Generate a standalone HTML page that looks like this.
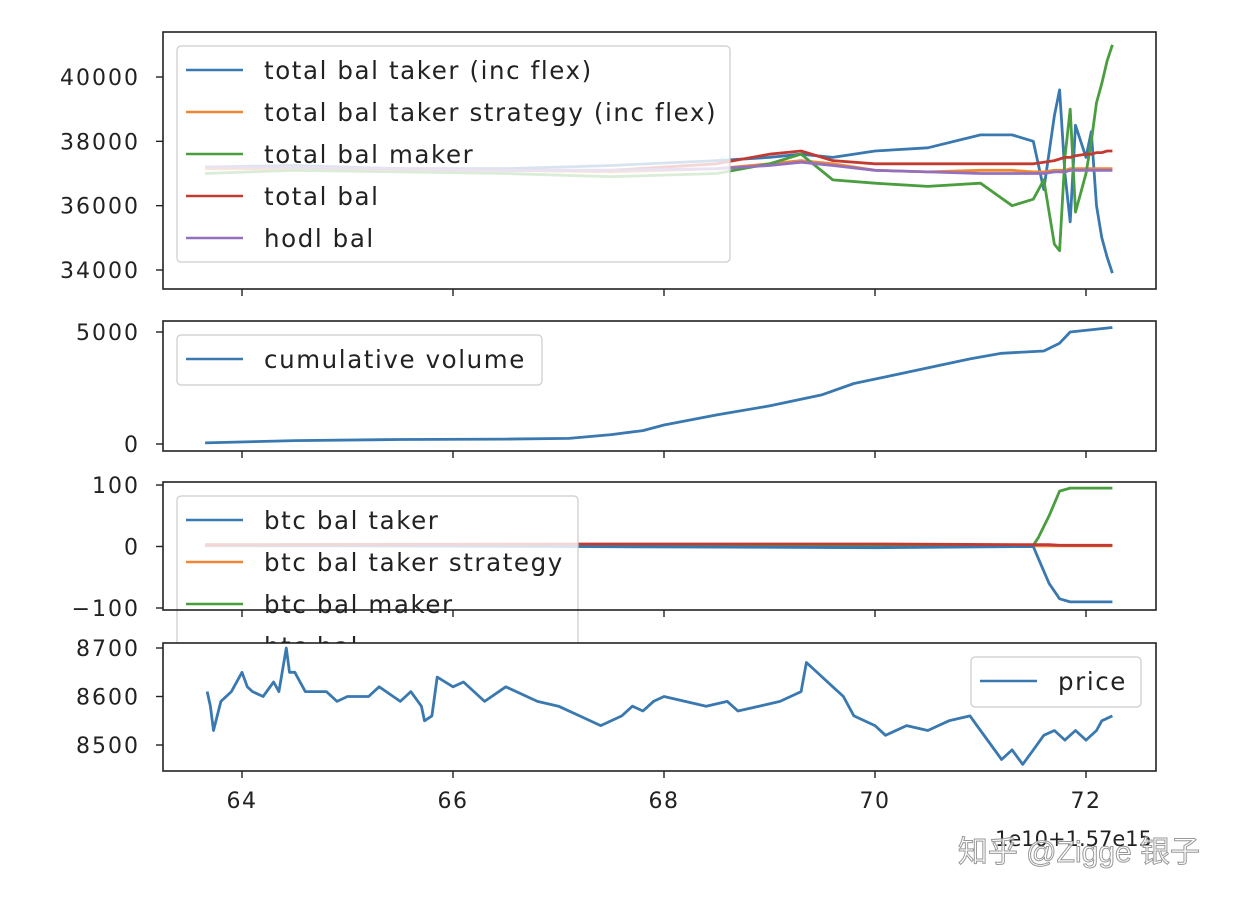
<!DOCTYPE html>
<html><head><meta charset="utf-8"><style>
body{margin:0;background:#fff;}
svg{display:block;font-family:"DejaVu Sans","Liberation Sans",sans-serif;}
</style></head><body>
<svg id="c" width="1234" height="906"></svg>
<script>
const xTickLabels=[64,66,68,70,72];
const balX=[63.65,64.5,65.5,66.5,67.5,68.5,69.0,69.3,69.6,70.0,70.5,71.0,71.3,71.5,71.6,71.7,71.75,71.8,71.85,71.9,72.0,72.05,72.1,72.15,72.2,72.25];
const takerBal=[37200,37250,37150,37150,37250,37400,37500,37600,37500,37700,37800,38200,38200,38000,36500,38800,39600,37000,35500,38500,37500,38300,36000,35000,34400,33900];
const makerBal=[37000,37100,37050,37000,36900,37000,37300,37600,36800,36700,36600,36700,36000,36200,36800,34800,34600,37500,39000,35800,37000,38000,39200,39800,40500,41000];
const totalBal=[37200,37200,37150,37100,37100,37300,37600,37700,37400,37300,37300,37300,37300,37300,37350,37400,37450,37500,37500,37550,37600,37600,37650,37650,37700,37700];
const takerStratBal=[37150,37150,37100,37100,37050,37150,37300,37400,37300,37100,37050,37100,37100,37050,37050,37100,37100,37100,37150,37150,37150,37150,37150,37150,37150,37150];
const hodlBal=[37200,37200,37150,37100,37100,37150,37250,37350,37250,37100,37050,37000,37000,37000,37000,37050,37050,37050,37100,37100,37100,37100,37100,37100,37100,37100];
const volX=[63.65,64.5,65.5,66.5,67.1,67.5,67.8,68.0,68.5,69.0,69.5,69.8,70.2,70.6,70.9,71.2,71.6,71.75,71.85,72.25];
const cumVol=[50,150,200,220,250,420,600,850,1300,1700,2200,2700,3100,3500,3800,4050,4150,4500,5000,5200];
const btcX=[63.65,67.0,70.0,71.5,71.55,71.65,71.75,71.85,72.0,72.25];
const btcTaker=[2,0,-2,0,-20,-60,-85,-90,-90,-90];
const btcMaker=[3,3,2,2,15,50,90,95,95,95];
const btcTotal=[3,4,4,3,3,3,2,2,2,2];
const btcStrat=[1,1,1,1,1,1,1,1,1,1];
const priceX=[63.67,63.7,63.73,63.8,63.9,64.0,64.05,64.1,64.2,64.3,64.35,64.42,64.45,64.5,64.6,64.8,64.9,65.0,65.2,65.3,65.5,65.6,65.7,65.73,65.8,65.85,66.0,66.1,66.3,66.5,66.8,67.0,67.2,67.4,67.6,67.7,67.8,67.9,68.0,68.2,68.4,68.6,68.7,68.9,69.1,69.3,69.35,69.5,69.6,69.7,69.8,70.0,70.1,70.3,70.5,70.7,70.9,71.0,71.2,71.3,71.4,71.5,71.6,71.7,71.8,71.9,72.0,72.1,72.15,72.25];
const price=[8610,8580,8530,8590,8610,8650,8620,8610,8600,8630,8610,8700,8650,8650,8610,8610,8590,8600,8600,8620,8590,8610,8580,8550,8560,8640,8620,8630,8590,8620,8590,8580,8560,8540,8560,8580,8570,8590,8600,8590,8580,8590,8570,8580,8590,8610,8670,8640,8620,8600,8560,8540,8520,8540,8530,8550,8560,8530,8470,8490,8460,8490,8520,8530,8510,8530,8510,8530,8550,8560];

const NS="http://www.w3.org/2000/svg";
const svg=document.getElementById('c');
function el(t,a,p){const e=document.createElementNS(NS,t);for(const k in a)e.setAttribute(k,a[k]);(p||svg).appendChild(e);return e;}
const X=v=>242+(v-64)*105.5;
function lin(v0,p0,v1,p1){return v=>p0+(v-v0)*(p1-p0)/(v1-v0);}
const panels=[
 {top:32,bot:289,y:lin(40000,77,34000,270),ticks:[40000,38000,36000,34000],name:'balance-panel'},
 {top:321,bot:451,y:lin(5000,332,0,444),ticks:[5000,0],name:'volume-panel'},
 {top:482,bot:610,y:lin(100,485,-100,608),ticks:[100,0,-100],name:'btc-panel'},
 {top:643,bot:771,y:lin(8700,648,8500,745),ticks:[8700,8600,8500],name:'price-panel'}];
const C={blue:'#3a78b0',orange:'#ef8636',green:'#4a9e3f',red:'#c33a33',purple:'#9370bd'};
function line(p,xs,ys,col,name){
 const d=xs.map((x,i)=>(i?'L':'M')+X(x).toFixed(1)+','+p.y(ys[i]).toFixed(1)).join('');
 const e=el('path',{d:d,fill:'none',stroke:col,'stroke-width':2.8,'stroke-linejoin':'round'});
 
 
}
function frame(p,i){
 const g=el('g',{});
 
 
 el('rect',{x:163,y:p.top,width:993,height:p.bot-p.top,fill:'#fff'},g);
 return g;
}
function axes(p,i){
 el('rect',{x:163,y:p.top,width:993,height:p.bot-p.top,fill:'none',stroke:'#222','stroke-width':1.6});
 p.ticks.forEach(t=>{const y=p.y(t);el('line',{x1:156,x2:163,y1:y,y2:y,stroke:'#222','stroke-width':1.4});
  const tx=el('text',{x:140,y:y+8,'text-anchor':'end','font-size':22,'letter-spacing':2,fill:'#222'});tx.textContent=(t<0?'\u2212'+(-t):t);
  });
 xTickLabels.forEach(t=>{el('line',{x1:X(t),x2:X(t),y1:p.bot,y2:p.bot+7,stroke:'#222','stroke-width':1.4});
  if(i===3){const tx=el('text',{x:X(t),y:p.bot+37,'text-anchor':'middle','font-size':22,'letter-spacing':1.5,fill:'#222'});tx.textContent=t;
  }});
}
function legend(x,y,w,h,items,name){
 const g=el('g',{});
 
 
 el('rect',{x:x,y:y,width:w,height:h,rx:4,fill:'#fff','fill-opacity':0.8,stroke:'#ccc','stroke-width':1.2},g);
 items.forEach((it,k)=>{const yy=y+24+k*42;
  el('line',{x1:x+9,x2:x+66,y1:yy,y2:yy,stroke:it[1],'stroke-width':2.5},g);
  const t=el('text',{x:x+87,y:yy+9,'font-size':24.5,'letter-spacing':1.6,fill:'#222'},g);t.textContent=it[0];
  });
}
let p=panels[0];frame(p,0);
line(p,balX,takerBal,C.blue,'taker-bal-line');
line(p,balX,takerStratBal,C.orange,'taker-strategy-bal-line');
line(p,balX,makerBal,C.green,'maker-bal-line');
line(p,balX,totalBal,C.red,'total-bal-line');
line(p,balX,hodlBal,C.purple,'hodl-bal-line');
legend(177,46,553,216,[['total bal taker (inc flex)',C.blue],['total bal taker strategy (inc flex)',C.orange],['total bal maker',C.green],['total bal',C.red],['hodl bal',C.purple]],'balance-legend');
axes(p,0);
p=panels[1];frame(p,1);
line(p,volX,cumVol,C.blue,'cumulative-volume-line');
legend(177,335,365,50,[['cumulative volume',C.blue]],'volume-legend');
axes(p,1);
p=panels[2];frame(p,2);
line(p,btcX,btcStrat,C.orange,'btc-strategy-line');
line(p,btcX,btcMaker,C.green,'btc-maker-line');
line(p,btcX,btcTaker,C.blue,'btc-taker-line');
line(p,btcX,btcTotal,C.red,'btc-total-line');
legend(177,496,401,175,[['btc bal taker',C.blue],['btc bal taker strategy',C.orange],['btc bal maker',C.green],['btc bal',C.red]],'btc-legend');
axes(p,2);
p=panels[3];frame(p,3);
line(p,priceX,price,C.blue,'price-line');
legend(971,657,170,50,[['price',C.blue]],'price-legend');
axes(p,3);
let t=el('text',{x:1152,y:846,'text-anchor':'end','font-size':21,fill:'#222'});t.textContent='1e10+1.57e15';

t=el('text',{x:1200,y:862,'text-anchor':'end','font-size':30,fill:'#fff','fill-opacity':0.75,stroke:'#999','stroke-width':1});
t.setAttribute('font-family','"Liberation Sans","Noto Sans CJK SC",sans-serif');
t.textContent='知乎 @Zigge 银子';

</script>
</body></html>
